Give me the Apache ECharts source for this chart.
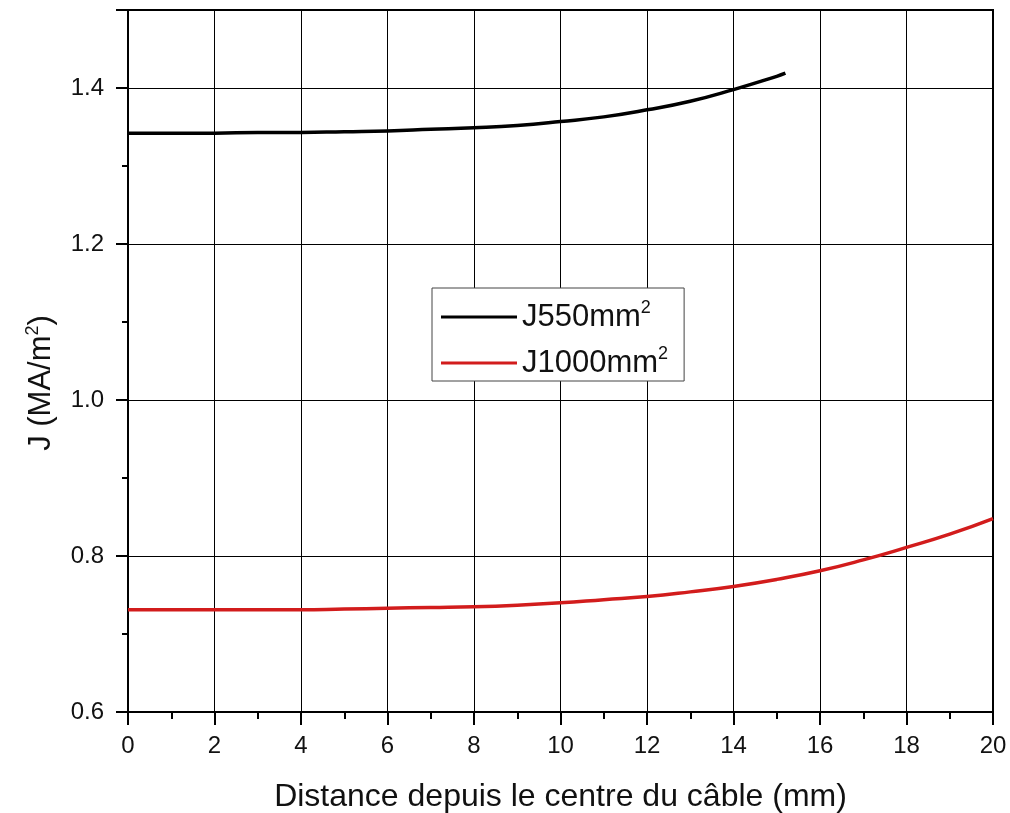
<!DOCTYPE html>
<html>
<head>
<meta charset="utf-8">
<script src="https://cdn.jsdelivr.net/npm/echarts@6/dist/echarts.min.js"></script>
<style>html,body{margin:0;padding:0;background:#fff}#c{width:1010px;height:813px}</style>
</head>
<body>
<div id="c"></div>
<script>
// Data
const xBlack = [0,1,2,3,4,5,6,7,8,9,10,11,12,13,14,15,15.2];
const yBlack = [1.342,1.342,1.342,1.343,1.343,1.344,1.345,1.347,1.349,1.352,1.357,1.363,1.372,1.383,1.398,1.415,1.419];
const xRed = [0,1,2,3,4,5,6,7,8,9,10,11,12,13,14,15,16,17,18,19,20];
const yRed = [0.731,0.731,0.731,0.731,0.731,0.732,0.733,0.734,0.735,0.737,0.740,0.744,0.748,0.754,0.761,0.770,0.781,0.795,0.811,0.828,0.848];
const seriesNames = ['J550mm²', 'J1000mm²'];
const xTitle = 'Distance depuis le centre du câble (mm)';
const yTitle = 'J (MA/m²)';

const FONT = 'Liberation Sans';
const sup = s => s.replace('²', '{sup|2}');
const chart = echarts.init(document.getElementById('c'), null, {renderer:'canvas'});
chart.setOption({
  animation: false,
  backgroundColor: '#fff',
  grid: {left:128, right:17, top:10, bottom:101, show:true, borderColor:'#000', borderWidth:2,
    containLabel:false, outerBoundsMode:'none'},
  legend: {
    left: 432, top: 288, orient: 'vertical',
    padding: [11, 16, 0, 9],
    itemGap: 10,
    itemWidth: 76, itemHeight: 3,
    icon: 'rect',
    borderColor: '#444', borderWidth: 1, backgroundColor: '#fff', borderRadius: 0,
    formatter: name => sup(name),
    textStyle: {fontFamily: FONT, fontSize: 31, color: '#111', lineHeight: 36,
      rich: {sup: {fontFamily: FONT, fontSize: 18, color: '#111', verticalAlign: 'top', lineHeight: 36}}},
    data: seriesNames
  },
  xAxis: {
    type: 'value', min: 0, max: 20, interval: 2,
    name: xTitle, nameLocation: 'middle', nameGap: 69,
    nameTextStyle: {fontFamily: FONT, fontSize: 32, color: '#111'},
    axisLine: {show:true, onZero:false, lineStyle:{color:'#000', width:2}},
    axisTick: {show:true, length:13, lineStyle:{color:'#000', width:2}},
    minorTick: {show:true, splitNumber:2, length:7, lineStyle:{color:'#000', width:2}},
    axisLabel: {fontFamily: FONT, fontSize: 24, color:'#111', margin: 22},
    splitLine: {show:true, lineStyle:{color:'#000', width:1}}
  },
  yAxis: {
    type: 'value', min: 0.6, max: 1.5, interval: 0.2,
    name: sup(yTitle), nameLocation: 'middle', nameGap: 68,
    nameTextStyle: {fontFamily: FONT, fontSize: 31, color: '#111', lineHeight: 36, padding: [0, 44, 0, 0],
      rich: {sup: {fontFamily: FONT, fontSize: 18, color: '#111', verticalAlign: 'top', lineHeight: 36}}},
    axisLine: {show:true, onZero:false, lineStyle:{color:'#000', width:2}},
    axisTick: {show:true, length:12, lineStyle:{color:'#000', width:2}},
    minorTick: {show:true, splitNumber:2, length:6, lineStyle:{color:'#000', width:2}},
    axisLabel: {fontFamily: FONT, fontSize: 24, color:'#111', margin: 24, showMaxLabel:false,
      formatter: v => (Math.abs(v-1.5)<1e-6 ? '' : v.toFixed(1))},
    splitLine: {show:true, lineStyle:{color:'#000', width:1}}
  },
  series: [
    {name: seriesNames[0], type:'line', symbol:'none', smooth:true,
     data: xBlack.map((x,i)=>[x, yBlack[i]]), lineStyle:{color:'#000', width:3.5}, itemStyle:{color:'#000'}},
    {name: seriesNames[1], type:'line', symbol:'none', smooth:true,
     data: xRed.map((x,i)=>[x, yRed[i]]), lineStyle:{color:'#d21c1c', width:3.5}, itemStyle:{color:'#d21c1c'}}
  ]
});
</script>
</body>
</html>
